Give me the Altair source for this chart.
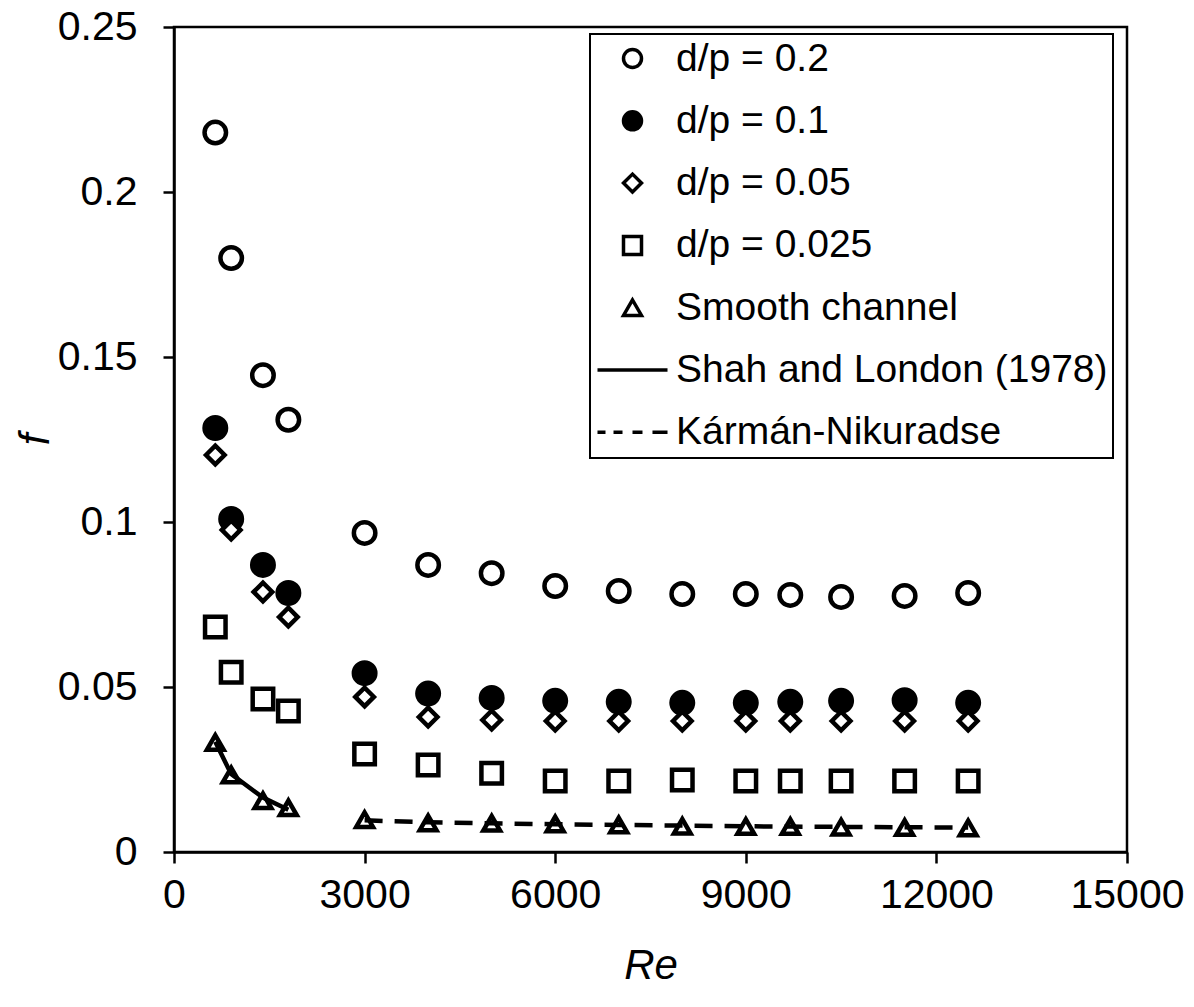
import altair as alt
import pandas as pd

# ---------------- data ----------------
re_vals = [650, 900, 1400, 1800, 3000, 4000, 5000, 6000, 7000, 8000, 9000, 9700, 10500, 11500, 12500]

f_dp02 = [0.218, 0.180, 0.1445, 0.131, 0.0967, 0.0870, 0.0845, 0.0806, 0.0791, 0.0782, 0.0782, 0.0779, 0.0773, 0.0776, 0.0785]
f_dp01 = [0.1285, 0.1009, 0.0870, 0.0785, 0.0542, 0.0480, 0.0467, 0.0458, 0.0455, 0.0452, 0.0452, 0.0455, 0.0458, 0.0460, 0.0452]
f_dp005 = [0.1203, 0.0976, 0.0788, 0.0712, 0.0470, 0.0409, 0.0400, 0.0397, 0.0397, 0.0397, 0.0397, 0.0397, 0.0397, 0.0397, 0.0397]
f_dp0025 = [0.0682, 0.0545, 0.0464, 0.0427, 0.0297, 0.0264, 0.0239, 0.0215, 0.0215, 0.0218, 0.0215, 0.0215, 0.0215, 0.0215, 0.0215]
f_smooth = [0.0332, 0.0233, 0.0155, 0.0134, 0.0098, 0.0088, 0.0087, 0.0085, 0.0082, 0.0078, 0.0077, 0.0077, 0.0075, 0.0074, 0.0073]

re_shah = [650, 900, 1400, 1800]
f_shah = [0.0334, 0.0236, 0.0165, 0.0128]

re_kn = [3000, 4000, 5000, 6000, 7000, 8000, 9000, 9700, 10500, 11500, 12500]
f_kn = [0.0096, 0.0090, 0.0087, 0.0084, 0.0082, 0.0080, 0.0078, 0.0077, 0.0076, 0.0075, 0.0074]

series_names = ["d/p = 0.2", "d/p = 0.1", "d/p = 0.05", "d/p = 0.025",
                "Smooth channel", "Shah and London (1978)", "Kármán-Nikuradse"]

x_ticks = [0, 3000, 6000, 9000, 12000, 15000]
y_ticks = [0, 0.05, 0.1, 0.15, 0.2, 0.25]

# ---------------- tables ----------------
rows = []
for name, vals in zip(series_names[:5], [f_dp02, f_dp01, f_dp005, f_dp0025, f_smooth]):
    for r, f in zip(re_vals, vals):
        rows.append({"Re": r, "f": f, "series": name})
pts = pd.DataFrame(rows)
shah_df = pd.DataFrame({"Re": re_shah, "f": f_shah})
kn_df = pd.DataFrame({"Re": re_kn, "f": f_kn})

FONT = "Liberation Sans"

shape_range = ["circle", "circle", "diamond", "square", "triangle-up",
               "M-3.89,0L3.89,0",
               "M-3.89,0L-3,0M-2.11,0L-1.11,0M0,0L1.11,0M2.22,0L3.89,0"]
fill_range = ["white", "black", "white", "white", "white", "transparent", "transparent"]
size_range = [462, 462, 346, 420, 280]

x_enc = alt.X("Re:Q",
              scale=alt.Scale(domain=[0, 15000], nice=False, zero=False),
              axis=alt.Axis(values=x_ticks, format="d", title="Re", labelFlush=False,
                            titleFontStyle="italic", titleY=113, titleBaseline="middle",
                            labelPadding=12))
y_enc = alt.Y("f:Q",
              scale=alt.Scale(domain=[0, 0.25], nice=False),
              axis=alt.Axis(values=y_ticks, format="~g", title="f", labelFlush=False,
                            titleFontStyle="italic", titleAngle=270, titleX=-139, titleY=412,
                            titleBaseline="middle", titleAlign="center", labelPadding=26))

legend_def = alt.Legend(title=None, orient="none", legendX=416, legendY=7,
                        padding=5, rowPadding=22.3, symbolOffset=18, labelOffset=24,
                        labelFontSize=39, labelFont=FONT, labelColor="black", labelLimit=0,
                        symbolSize=324, symbolStrokeWidth=3.5,
                        strokeColor="black", fillColor="white")

points = alt.Chart(pts).mark_point(stroke="black", strokeWidth=4.5, opacity=1).encode(
    x=x_enc,
    y=y_enc,
    shape=alt.Shape("series:N", scale=alt.Scale(domain=series_names, range=shape_range), legend=legend_def),
    fill=alt.Fill("series:N", scale=alt.Scale(domain=series_names, range=fill_range), legend=legend_def),
    size=alt.Size("series:N", scale=alt.Scale(type="ordinal", domain=series_names[:5], range=size_range), legend=None),
)

shah = alt.Chart(shah_df).mark_line(color="black", strokeWidth=4.5).encode(x="Re:Q", y="f:Q")
kn = alt.Chart(kn_df).mark_line(color="black", strokeWidth=4.5, strokeDash=[18, 12]).encode(x="Re:Q", y="f:Q")

chart = alt.layer(points, shah, kn).properties(
    width=953, height=825,
    autosize=alt.AutoSizeParams(type="none"),
    padding={"left": 174, "top": 27, "right": 67, "bottom": 155},
).configure_view(
    stroke="black", strokeWidth=2.5
).configure_axis(
    grid=False, domainColor="black", domainWidth=2.5, tickColor="black", tickWidth=2.5,
    tickSize=11, labelFont=FONT, labelFontSize=41, labelColor="black",
    titleFont=FONT, titleFontSize=42, titleColor="black", titleFontWeight="normal"
).configure_legend(
    strokeWidth=2
)

chart.save("out.html", embed_options={"renderer": "svg", "actions": False})
